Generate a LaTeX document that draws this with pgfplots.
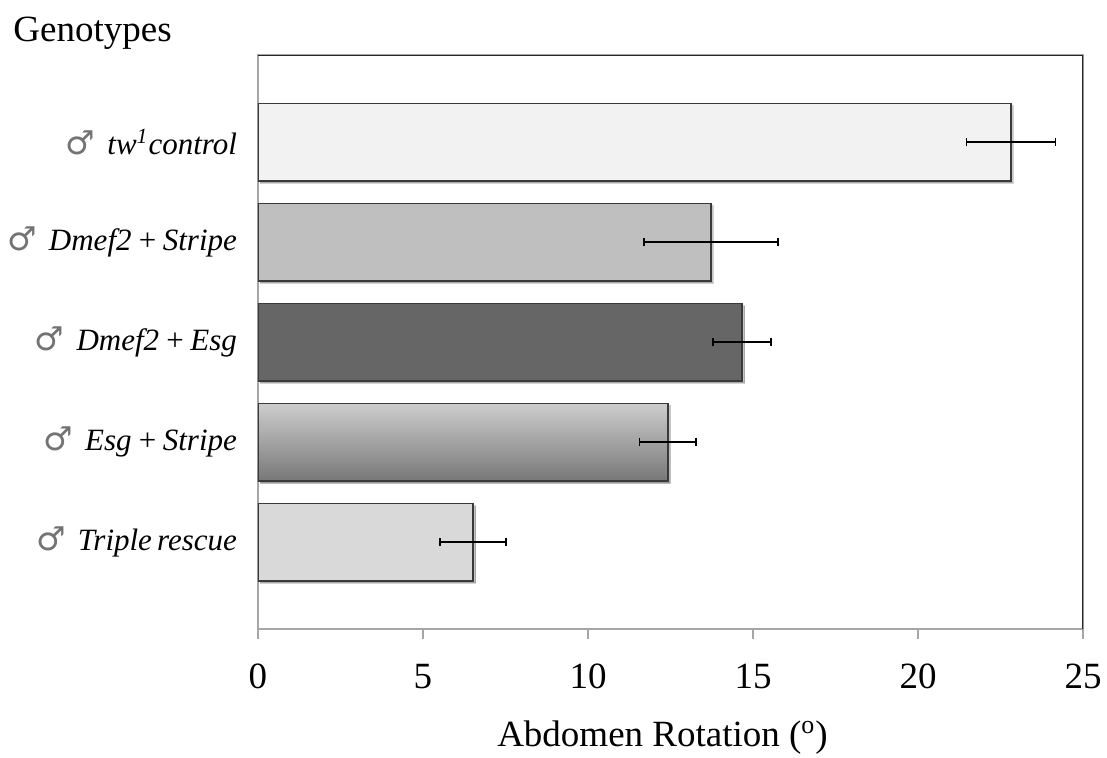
\documentclass[border=0pt]{standalone}
\usepackage{fontspec}
\setmainfont{Liberation Serif}
\newfontfamily\symfont{DejaVu Sans}
\usepackage{pgfplots}
\pgfplotsset{compat=1.18}
\usetikzlibrary{shadows}
\definecolor{axgray}{HTML}{A6A6A6}
\definecolor{barline}{HTML}{3A3A3A}
\definecolor{cA}{HTML}{F2F2F2}
\definecolor{cB}{HTML}{BFBFBF}
\definecolor{cC}{HTML}{666666}
\definecolor{cDt}{HTML}{CDCDCD}
\definecolor{cDb}{HTML}{787878}
\definecolor{cE}{HTML}{D9D9D9}
\newcommand{\male}{{\symfont\fontsize{16.5}{17}\selectfont\color{black!55}♂}\hspace{6pt}}
\begin{document}
\begin{tikzpicture}
\useasboundingbox (-129pt,-64pt) rectangle (424.5pt,314.5pt);
\begin{axis}[
  at={(0,0)}, anchor=south west,
  scale only axis, width=412.5pt, height=287pt,
  xmin=0, xmax=25, ymin=0.13, ymax=5.87,
  xtick={0,5,...,25},
  ytick={1,2,3,4,5},
  yticklabels={%
    {\male\textit{Triple\,rescue}},
    {\male\textit{Esg\,+\,Stripe}},
    {\male\textit{Dmef2\,+\,Esg}},
    {\male\textit{Dmef2\,+\,Stripe}},
    {\male\textit{tw\textsuperscript{1}control}}},
  /pgf/number format/assume math mode=true,
  tick label style={font=\fontsize{18.5}{20}\selectfont},
  xticklabel style={yshift=-9pt},
  yticklabel style={font=\fontsize{15.5}{17}\selectfont, anchor=east, xshift=-2pt},
  axis line style={axgray, line width=0.75pt},
  tick align=outside,
  xtick pos=bottom,
  ytick pos=left,
  major tick length=5pt,
  every tick/.style={draw=axgray, line width=0.75pt},
  ytick style={draw=none},
  xlabel={Abdomen Rotation (\textsuperscript{o})},
  xlabel style={font=\fontsize{18.5}{20}\selectfont, yshift=-9pt, xshift=-4pt},
  every axis plot/.append style={
    xbar, bar width=38.75pt, bar shift=0pt,
    draw=barline, line width=0.75pt,
    error bars/x dir=both, error bars/x explicit,
    error bars/error mark=|,
    error bars/error bar style={line width=0.75pt, draw=black},
    error bars/error mark options={line width=0.75pt, mark size=2.2pt, draw=black}
  },
]
\addplot[fill=cA, drop shadow={shadow xshift=1.2pt, shadow yshift=-1.2pt, opacity=0.22, fill=black}] coordinates {(22.82,5) +- (1.35,0)};
\addplot[fill=cB, drop shadow={shadow xshift=1.2pt, shadow yshift=-1.2pt, opacity=0.22, fill=black}] coordinates {(13.73,4) +- (2.03,0)};
\addplot[fill=cC, drop shadow={shadow xshift=1.2pt, shadow yshift=-1.2pt, opacity=0.22, fill=black}] coordinates {(14.67,3) +- (0.88,0)};
\addplot[top color=cDt, bottom color=cDb, drop shadow={shadow xshift=1.2pt, shadow yshift=-1.2pt, opacity=0.22, fill=black}] coordinates {(12.42,2) +- (0.86,0)};
\addplot[fill=cE, drop shadow={shadow xshift=1.2pt, shadow yshift=-1.2pt, opacity=0.22, fill=black}] coordinates {(6.52,1) +- (1.0,0)};
\draw[black!85, line width=0.75pt] (rel axis cs:0,1) -- (rel axis cs:1,1) -- (rel axis cs:1,0);
\draw[axgray, line width=0.75pt] (rel axis cs:0,0) -- ++(-2.5pt,0);
\end{axis}
\node[anchor=base west, font=\fontsize{18.5}{20}\selectfont, inner sep=0pt] at (-122.5pt,294pt) {Genotypes};
\end{tikzpicture}
\end{document}
